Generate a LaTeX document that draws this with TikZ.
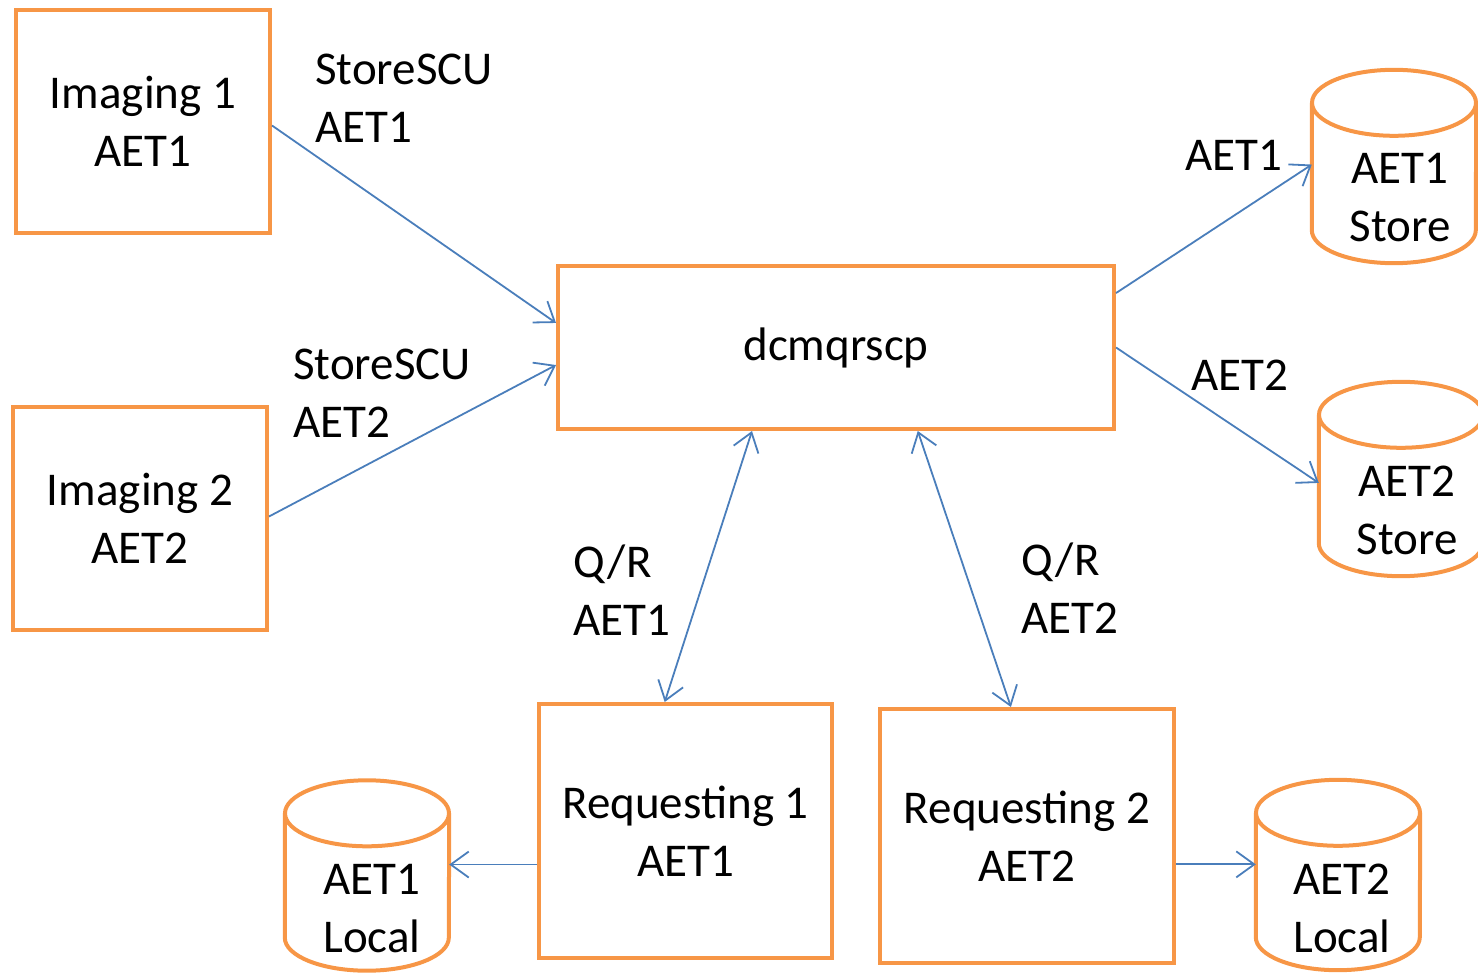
\documentclass[tikz,border=0pt]{standalone}
\usepackage{fontspec}
\setmainfont{Carlito}
\usetikzlibrary{arrows.meta,calc}
\definecolor{boxorange}{HTML}{F79646}
\definecolor{arrowblue}{HTML}{4A7EBB}
\tikzset{
  box/.style={draw=boxorange, line width=4pt, rectangle, inner sep=0pt, align=center, font=\fontsize{47}{58}\selectfont},
  cylbox/.style={rectangle, inner sep=0pt, minimum width=164pt},
  cyltext/.style={align=center, font=\fontsize{47}{58}\selectfont, inner sep=0pt},
  cylline/.style={draw=boxorange, line width=4pt},
  lbl/.style={align=left, inner sep=0pt, font=\fontsize{47}{58}\selectfont},
  conn/.style={draw=arrowblue, line width=1.8pt, -{Straight Barb[length=18pt,width=26pt,line width=1.8pt]}},
  biconn/.style={draw=arrowblue, line width=1.8pt, {Straight Barb[length=18pt,width=26pt,line width=1.8pt]}-{Straight Barb[length=18pt,width=26pt,line width=1.8pt]}}
}
\newcommand\drawcyl[1]{%
  \draw[cylline] ([yshift=-33pt]#1.north west) -- ([yshift=33pt]#1.south west)
     arc[start angle=180, end angle=360, x radius=82pt, y radius=33pt]
     -- ([yshift=-33pt]#1.north east);
  \draw[cylline] ([yshift=-33pt]#1.north) ellipse[x radius=82pt, y radius=33pt];
}
\begin{document}
\begin{tikzpicture}[x=1pt,y=-1pt]
\useasboundingbox (0,0) rectangle (1478,976);
% boxes
\node[box, minimum width=254pt, minimum height=223pt] (i1) at (143,121.5) {Imaging 1\\AET1};
\node[box, minimum width=254pt, minimum height=223pt] (i2) at (140,518.5) {Imaging 2\\AET2};
\node[box, minimum width=556pt, minimum height=163pt] (dcm) at (836,347.5) {dcmqrscp};
\node[box, minimum width=293pt, minimum height=254pt] (r1) at (685.5,831) {Requesting 1\\AET1};
\node[box, minimum width=294pt, minimum height=254pt] (r2) at (1027,836) {Requesting 2\\AET2};
% cylinders
\node[cylbox, minimum height=193pt, label={[cyltext, xshift=6pt, yshift=-31pt]center:AET1\\Store}] (s1) at (1394,166.5) {};
\node[cylbox, minimum height=194pt, label={[cyltext, xshift=6pt, yshift=-31pt]center:AET2\\Store}] (s2) at (1401,479) {};
\node[cylbox, minimum height=190pt, label={[cyltext, xshift=5pt, yshift=-33pt]center:AET1\\Local}] (l1) at (367,875.5) {};
\node[cylbox, minimum height=190pt, label={[cyltext, xshift=4pt, yshift=-33pt]center:AET2\\Local}] (l2) at (1338,875) {};
\drawcyl{s1}
\drawcyl{s2}
\drawcyl{l1}
\drawcyl{l2}
% labels
\node[lbl, anchor=west] (t1) at (315,98) {StoreSCU\\AET1};
\node[lbl, anchor=west] (t2) at (293,393) {StoreSCU\\AET2};
\node[lbl] (t3) at (1234,155) {AET1};
\node[lbl] (t4) at (1240,375) {AET2};
\node[lbl, anchor=west] (t5) at (573,590) {Q/R\\AET1};
\node[lbl, anchor=west] (t6) at (1021,588) {Q/R\\AET2};
% connectors
\draw[conn] ([yshift=-4pt]i1.east) -- ($(dcm.north west)!0.353!(dcm.south west)$);
\draw[conn] ([yshift=2pt]i2.east) -- ($(dcm.north west)!0.605!(dcm.south west)$);
\draw[conn] ($(dcm.north east)!0.174!(dcm.south east)$) -- ($(s1.north west)!0.49!(s1.south west)$);
\draw[conn] (dcm.east) -- ($(s2.north west)!0.52!(s2.south west)$);
\draw[biconn] ($(dcm.south west)!0.35!(dcm.south east)$) -- ($(r1.north west)!0.43!(r1.north east)$);
\draw[biconn] ($(dcm.south west)!0.646!(dcm.south east)$) -- ($(r2.north west)!0.446!(r2.north east)$);
\coordinate (r1o) at ($(r1.north west)!0.63!(r1.south west)$);
\coordinate (r2o) at ($(r2.north east)!0.61!(r2.south east)$);
\draw[conn] (r1o) -- (r1o -| l1.east);
\draw[conn] (r2o) -- (r2o -| l2.west);
\end{tikzpicture}
\end{document}
